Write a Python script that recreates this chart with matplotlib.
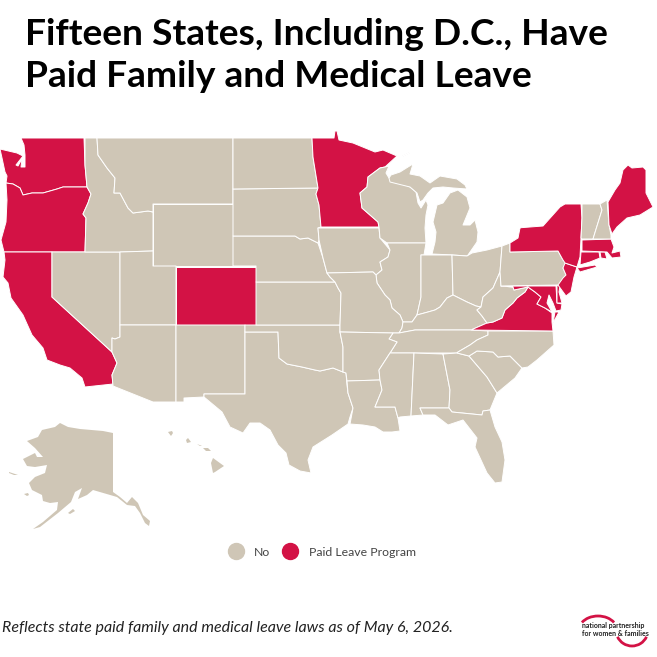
import matplotlib
matplotlib.use('Agg')
import matplotlib.pyplot as plt
from matplotlib.lines import Line2D
from matplotlib.patches import Arc

# outlines, x/y in image pixels
WA = [[(21,138),(84,138),(85,165),(87,187),(63,187),(57,189),(43,193),(32,193),(23,195),(20,188),(13,184),(6,183),(7,176),(5,172),(2,158),(0,149),(17,153),(23,156),(16,165),(18,166),(22,159),(21,167),(25,167),(25,155),(24,145)]]
OR = [[(6,183),(13,184),(20,188),(23,195),(32,193),(43,193),(57,189),(63,187),(87,187),(91,194),(88,203),(83,214),(86,218),(85,252),(4,252),(1,240),(6,222),(7,200)]]
CA = [[(4,252),(52,252),(52,297),(112,352),(117,363),(112,375),(113,384),(85,387),(82,378),(70,368),(60,365),(47,360),(43,348),(32,335),(23,315),(11,298),(8,283),(3,277),(5,260)]]
NV = [[(52,252),(120,252),(120,337),(115,339),(112,338),(112,352),(52,297)]]
ID = [[(85,138),(97,138),(98,155),(107,168),(115,178),(114,193),(120,193),(128,208),(133,213),(148,211),(153,212),(153,251),(120,252),(85,252),(86,218),(83,214),(88,203),(91,194),(87,187),(85,165)]]
MT = [[(97,138),(233,138),(233,204),(153,204),(153,212),(148,211),(133,213),(128,208),(120,193),(114,193),(115,178),(107,168),(98,155)]]
WY = [[(153,204),(233,204),(233,266),(153,266)]]
UT = [[(120,252),(153,251),(153,266),(176,266),(176,325),(120,325)]]
CO = [[(176,267),(256,267),(256,325),(176,325)]]
AZ = [[(120,325),(176,325),(176,402),(153,402),(113,386),(112,375),(117,363),(112,352),(112,338),(115,339),(120,337)]]
NM = [[(176,325),(245,325),(245,394),(204,394),(204,397),(184,398),(184,402),(176,402)]]
TX = [[(245,332),(278,332),(279,358),(287,364),(302,367),(315,370),(320,371),(333,368),(343,372),(346,373),(347,385),(348,393),(353,408),(350,417),(348,424),(332,435),(313,447),(308,460),(311,473),(300,471),(289,465),(286,453),(278,445),(270,430),(260,423),(250,423),(243,433),(230,427),(222,412),(204,397),(204,394),(245,394)]]
OK = [[(245,325),(340,325),(340,332),(343,347),(343,372),(333,368),(320,371),(315,370),(302,367),(287,364),(279,358),(278,332),(245,332)]]
KS = [[(256,282),(335,282),(338,288),(341,293),(340,325),(256,325)]]
NE = [[(233,236),(295,236),(300,239),(308,238),(318,243),(323,258),(327,273),(330,277),(335,282),(256,282),(256,266),(233,266)]]
SD = [[(233,189),(318,188),(316,194),(319,205),(321,227),(318,228),(319,240),(318,243),(308,238),(300,239),(295,236),(233,236)]]
ND = [[(233,138),(312,138),(313,157),(318,188),(233,189)]]
MN = [[(312,138),(334,138),(335,131),(337,131),(339,140),(353,143),(375,152),(383,150),(397,156),(385,167),(380,168),(368,177),(367,187),(360,193),(362,208),(370,215),(378,222),(379,227),(321,227),(319,205),(316,194),(318,188),(313,157)]]
IA = [[(318,228),(379,228),(380,238),(390,250),(388,257),(380,262),(382,270),(376,275),(373,272),(327,273),(323,258),(319,240)]]
WI = [[(379,227),(378,222),(370,215),(362,208),(360,193),(367,187),(368,177),(380,168),(385,167),(389,166),(386,173),(389,178),(410,187),(416,192),(418,203),(421,208),(426,200),(428,205),(426,215),(425,228),(426,243),(387,243),(380,238)]]
MI = [[(389,178),(391,175),(400,172),(408,167),(413,164),(410,174),(420,176),(430,183),(440,176),(457,179),(465,185),(467,189),(453,188),(443,187),(433,188),(428,193),(423,200),(420,202),(417,193),(410,187),(390,182)],
      [(432,254),(435,242),(436,232),(433,222),(437,205),(443,203),(450,193),(458,190),(467,197),(470,208),(463,225),(470,225),(475,220),(478,232),(477,242),(468,255),(467,256),(453,255)],
      [(400,157),(412,151),(410,153),(402,157)]]
IL = [[(387,243),(426,243),(424,255),(421,255),(421,297),(417,315),(412,322),(403,322),(400,315),(392,308),(390,300),(385,295),(377,283),(376,275),(382,270),(380,262),(388,257),(390,250)]]
IN = [[(421,255),(452,255),(453,295),(447,298),(440,307),(435,310),(428,312),(417,315),(421,297)]]
OH = [[(452,255),(467,256),(472,253),(487,250),(502,246),(500,272),(493,288),(483,297),(481,307),(476,306),(467,302),(453,295)]]
MO = [[(327,273),(373,272),(376,275),(377,283),(385,295),(390,300),(392,308),(400,315),(403,322),(402,328),(399,333),(393,333),(340,332),(340,325),(341,293),(338,288),(335,282),(330,277)]]
KY = [[(403,322),(412,322),(417,315),(428,312),(435,310),(440,307),(447,298),(453,295),(467,302),(476,306),(481,307),(477,310),(482,316),(487,323),(471,330),(415,330),(399,333),(402,328)]]
TN = [[(399,333),(415,330),(471,330),(488,331),(488,335),(477,340),(470,345),(458,352),(457,353),(390,353),(397,342),(389,339),(393,333)]]
AR = [[(340,332),(393,333),(389,339),(397,342),(390,353),(379,370),(380,380),(347,381),(346,373),(343,372),(343,347)]]
LA = [[(347,381),(380,380),(382,390),(375,407),(395,407),(398,418),(400,431),(392,432),(383,432),(375,427),(363,425),(350,424),(353,408),(348,393)]]
MS = [[(390,353),(414,353),(411,416),(400,417),(398,418),(395,407),(375,407),(382,390),(380,380),(379,370)]]
AL = [[(414,353),(443,354),(450,390),(449,408),(420,408),(423,415),(411,416)]]
GA = [[(443,354),(457,353),(469,356),(487,377),(497,393),(490,410),(483,411),(482,415),(452,412),(449,408),(450,390)]]
FL = [[(420,408),(449,408),(452,412),(482,415),(483,411),(490,410),(495,427),(502,442),(505,460),(502,482),(495,483),(487,473),(475,447),(477,438),(463,420),(448,425),(435,415),(423,415)]]
SC = [[(469,356),(477,351),(493,352),(498,357),(510,356),(522,368),(515,378),(497,393),(487,377)]]
NC = [[(488,331),(553,331),(554,345),(537,360),(528,367),(522,368),(510,356),(498,357),(493,352),(477,351),(469,356),(457,353),(458,352),(470,345),(477,340),(488,335)]]
VA = [[(471,330),(487,323),(493,322),(502,318),(505,310),(513,303),(517,298),(525,292),(528,287),(535,292),(541,297),(537,304),(545,308),(552,313),(552,322),(553,331)],
      [(555,312),(559,312),(553,323)]]
WV = [[(500,272),(501,286),(513,287),(514,290),(528,287),(525,292),(517,298),(513,303),(505,310),(502,318),(493,322),(487,323),(482,316),(477,310),(481,307),(483,297),(493,288)]]
MD = [[(501,286),(556,286),(557,303),(562,304),(561,310),(556,311),(553,303),(549,295),(547,303),(552,312),(545,308),(537,304),(541,297),(535,292),(528,287),(514,290),(513,287)]]
DE = [[(557,285),(560,286),(559,292),(562,303),(557,303)]]
PA = [[(502,246),(510,243),(510,252),(558,251),(563,260),(567,263),(563,268),(566,275),(559,285),(501,286),(500,272)]]
NJ = [[(565,263),(577,267),(574,277),(571,292),(566,296),(558,285),(563,278),(566,275),(563,268)]]
NY = [[(510,243),(518,238),(520,228),(517,228),(543,226),(560,207),(565,204),(581,204),(582,218),(581,238),(580,257),(577,267),(565,263),(563,260),(558,251),(510,252)],
      [(577,268),(595,265),(597,267),(580,272)]]
CT = [[(581,252),(599,252),(600,258),(590,262),(580,265)]]
RI = [[(600,252),(605,252),(607,259),(601,258)]]
MA = [[(582,240),(611,239),(614,247),(612,253),(620,251),(621,257),(612,258),(607,252),(582,251)]]
VT = [[(582,204),(600,204),(602,210),(593,239),(582,239),(581,238),(582,218)]]
NH = [[(600,204),(607,200),(609,225),(611,235),(611,239),(593,239),(602,210)]]
ME = [[(608,202),(615,190),(620,183),(623,170),(628,165),(632,168),(643,167),(646,170),(646,193),(653,207),(640,215),(627,218),(617,227),(612,234),(609,225)]]
AK = [[(113,433),(113,492),(120,497),(127,503),(132,497),(138,503),(143,515),(150,521),(149,526),(145,523),(140,513),(135,506),(127,505),(117,497),(93,490),(87,495),(78,499),(82,488),(75,492),(71,502),(58,513),(40,527),(33,529),(43,522),(57,510),(58,502),(50,503),(43,501),(42,495),(32,490),(29,483),(35,477),(45,473),(47,465),(35,467),(27,466),(23,459),(35,453),(37,457),(43,457),(35,448),(27,441),(38,437),(42,430),(55,427),(60,423),(68,427),(80,429),(103,431)],
      [(68,513),(73,509),(75,511),(70,514)],
      [(9,472),(18,475),(14,475),(9,473)],
      [(24,494),(28,493),(29,495),(27,496)]]
HI = [[(213,458),(224,466),(215,472),(213,473),(211,463)],
      [(203,448),(208,448),(211,451),(206,451)],
      [(197,444),(202,446),(200,446)],
      [(186,440),(188,438),(191,442),(187,443)],
      [(168,432),(172,431),(173,433),(171,436)]]

state_shapes = {'WA': WA, 'OR': OR, 'CA': CA, 'NV': NV, 'ID': ID, 'MT': MT, 'WY': WY, 'UT': UT, 'CO': CO,
                'AZ': AZ, 'NM': NM, 'TX': TX, 'OK': OK, 'KS': KS, 'NE': NE, 'SD': SD, 'ND': ND, 'MN': MN,
                'IA': IA, 'WI': WI, 'MI': MI, 'IL': IL, 'IN': IN, 'OH': OH, 'MO': MO, 'KY': KY, 'TN': TN,
                'AR': AR, 'LA': LA, 'MS': MS, 'AL': AL, 'GA': GA, 'FL': FL, 'SC': SC, 'NC': NC, 'VA': VA,
                'WV': WV, 'MD': MD, 'DE': DE, 'PA': PA, 'NJ': NJ, 'NY': NY, 'CT': CT, 'RI': RI, 'MA': MA,
                'VT': VT, 'NH': NH, 'ME': ME, 'AK': AK, 'HI': HI}

paid_leave_states = ['WA', 'OR', 'CA', 'CO', 'MN', 'NY', 'NJ', 'DE', 'MD', 'VA', 'CT', 'RI', 'MA', 'ME']
legend_labels = ['No', 'Paid Leave Program']
title_lines = ['Fifteen States, Including D.C., Have', 'Paid Family and Medical Leave']
note = 'Reflects state paid family and medical leave laws as of May 6, 2026.'
logo_lines = ['national partnership', 'for women & families']

col_no = '#cfc6b6'
col_yes = '#d31245'

fig = plt.figure(figsize=(6.57, 6.57), dpi=100)
ax = fig.add_axes([0, 0, 1, 1])
ax.set_xlim(0, 657)
ax.set_ylim(657, 0)
ax.axis('off')

for code, parts in state_shapes.items():
    color = col_yes if code in paid_leave_states else col_no
    for part in parts:
        xs = [p[0] for p in part]
        ys = [p[1] for p in part]
        lw = 0.7 if code not in ('AK', 'HI') else 0
        ax.fill(xs, ys, facecolor=color, edgecolor='white', linewidth=lw, joinstyle='round')

ax.text(25, 45, title_lines[0], fontsize=26.7, family='Lato', weight='bold', color='black')
ax.text(25, 87, title_lines[1], fontsize=26.7, family='Lato', weight='bold', color='black')

handles = [Line2D([], [], marker='o', linestyle='', markersize=11.5, color=col_no),
           Line2D([], [], marker='o', linestyle='', markersize=11.5, color=col_yes)]
ax.legend(handles, legend_labels, ncol=2, loc='center', bbox_to_anchor=(319.5 / 657, 1 - 552 / 657),
          frameon=False, prop={'family': 'Lato', 'size': 8.8}, labelcolor='#444444',
          handletextpad=0.5, columnspacing=0.65)

ax.text(2, 632, note, fontsize=11.5, family='Lato', style='italic', color='#222222')

# logo
ax.add_patch(Arc((598, 630), 38, 28, theta1=205, theta2=335, color=col_yes, linewidth=2))
ax.add_patch(Arc((632, 630), 32, 32, theta1=25, theta2=155, color=col_yes, linewidth=2))
ax.text(582, 628, logo_lines[0], fontsize=5.0, family='Lato', weight='bold', color='#222222')
ax.text(582, 636, logo_lines[1], fontsize=5.0, family='Lato', weight='bold', color='#222222')

fig.savefig('out.png', dpi=100)
